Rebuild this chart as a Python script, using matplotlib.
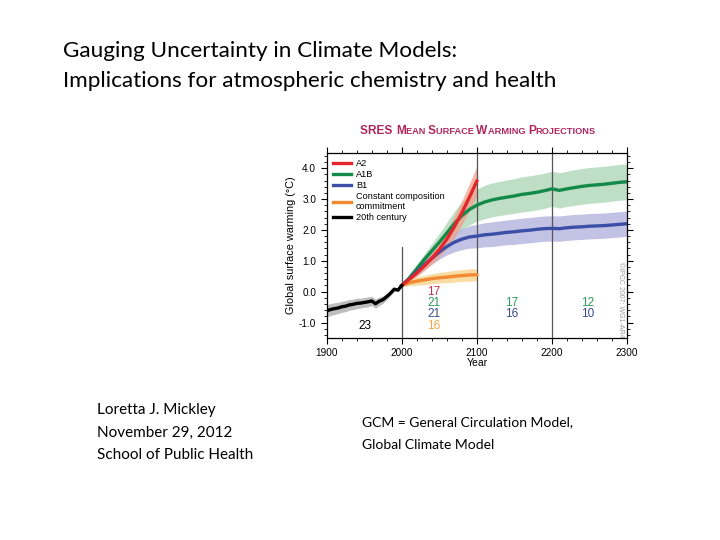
import matplotlib
matplotlib.use("Agg")
import matplotlib.pyplot as plt
from matplotlib.ticker import MultipleLocator

# 20th century observations / simulations
years_20c = [1900, 1905, 1910, 1915, 1920, 1925, 1930, 1935, 1940, 1945, 1950,
             1955, 1960, 1965, 1970, 1975, 1980, 1985, 1990, 1995, 2000]
warm_20c = [-0.62, -0.58, -0.55, -0.53, -0.49, -0.47, -0.43, -0.41, -0.38, -0.37, -0.35,
            -0.33, -0.30, -0.39, -0.31, -0.26, -0.16, -0.05, 0.08, 0.05, 0.20]
spread_20c = [0.20, 0.19, 0.19, 0.18, 0.18, 0.18, 0.17, 0.17, 0.17, 0.16, 0.16,
              0.16, 0.15, 0.15, 0.14, 0.12, 0.10, 0.08, 0.06, 0.04, 0.02]

# 21st century scenarios
years_21c = [2000, 2010, 2020, 2030, 2040, 2050, 2060, 2070, 2080, 2090, 2100]
a2 = [0.20, 0.40, 0.60, 0.83, 1.08, 1.36, 1.70, 2.10, 2.55, 3.05, 3.58]
a2_spread = [0.02, 0.07, 0.11, 0.15, 0.19, 0.24, 0.29, 0.34, 0.39, 0.44, 0.48]
a1b_21c = [0.20, 0.44, 0.74, 1.04, 1.32, 1.60, 1.90, 2.20, 2.46, 2.66, 2.80]
a1b_spread_21c = [0.02, 0.08, 0.13, 0.18, 0.23, 0.28, 0.34, 0.40, 0.45, 0.50, 0.52]
b1_21c = [0.20, 0.41, 0.64, 0.87, 1.08, 1.28, 1.46, 1.60, 1.70, 1.77, 1.80]
b1_spread_21c = [0.02, 0.07, 0.11, 0.15, 0.19, 0.23, 0.27, 0.31, 0.34, 0.36, 0.38]
comm = [0.20, 0.29, 0.34, 0.38, 0.42, 0.45, 0.47, 0.50, 0.52, 0.54, 0.55]
comm_spread = [0.03, 0.10, 0.13, 0.15, 0.16, 0.17, 0.18, 0.19, 0.19, 0.20, 0.20]

# stabilisation after 2100
years_ext = [2100, 2110, 2120, 2130, 2140, 2150, 2160, 2170, 2180, 2190, 2200,
             2210, 2220, 2230, 2240, 2250, 2260, 2270, 2280, 2290, 2300]
a1b_ext = [2.80, 2.90, 2.97, 3.02, 3.06, 3.10, 3.15, 3.18, 3.22, 3.27, 3.33,
           3.28, 3.33, 3.37, 3.41, 3.44, 3.46, 3.48, 3.51, 3.54, 3.56]
a1b_spread_ext = [0.52, 0.54, 0.55, 0.55, 0.56, 0.56, 0.57, 0.57, 0.57, 0.57, 0.57,
                  0.57, 0.57, 0.58, 0.58, 0.58, 0.58, 0.58, 0.58, 0.58, 0.58]
b1_ext = [1.80, 1.84, 1.86, 1.89, 1.92, 1.94, 1.97, 1.99, 2.02, 2.04, 2.05,
          2.04, 2.07, 2.09, 2.10, 2.12, 2.13, 2.14, 2.16, 2.18, 2.20]
b1_spread_ext = [0.38, 0.39, 0.40, 0.40, 0.40, 0.41, 0.41, 0.41, 0.41, 0.41, 0.41,
                 0.41, 0.41, 0.41, 0.41, 0.41, 0.41, 0.41, 0.41, 0.41, 0.41]

# model counts per period
count_rows = [0.0, -0.37, -0.73, -1.10]
counts_2000s = ["17", "21", "21", "16"]
counts_2100s = ["", "17", "16", ""]
counts_2200s = ["", "12", "10", ""]

C_A2, C_A1B, C_B1, C_COM = "#e2262c", "#148a48", "#3b4fa6", "#f28a34"
B_A2, B_A1B, B_B1, B_COM = "#f2a08c", "#a9d3b2", "#aeaedb", "#f8cf86"
NUM_COLORS = ["#c9304a", "#2a9a5a", "#3a4a8e", "#f2a444"]

plt.rcParams["font.family"] = ["Liberation Sans", "DejaVu Sans"]
fig = plt.figure(figsize=(7.2, 5.4), dpi=100)
ax = fig.add_axes([0.4537, 0.3741, 0.4171, 0.3431])


def band(x, mid, spread, color):
    lo = [m - s for m, s in zip(mid, spread)]
    hi = [m + s for m, s in zip(mid, spread)]
    ax.fill_between(x, lo, hi, color=color, lw=0, alpha=0.75)


band(years_20c, warm_20c, spread_20c, "#a8a8a8")
band(years_ext, a1b_ext, a1b_spread_ext, B_A1B)
band(years_ext, b1_ext, b1_spread_ext, B_B1)
band(years_21c, a1b_21c, a1b_spread_21c, B_A1B)
band(years_21c, b1_21c, b1_spread_21c, B_B1)
band(years_21c, a2, a2_spread, B_A2)
band(years_21c, comm, comm_spread, B_COM)

for xv in (2100, 2200):
    ax.axvline(xv, color="#555555", lw=0.9, zorder=1)
ax.plot([2000, 2000], [-1.5, 1.45], color="#555555", lw=0.9, zorder=1)

lw = 2.4
ax.plot(years_21c + years_ext[1:], a1b_21c + a1b_ext[1:], color=C_A1B, lw=lw, label="A1B")
ax.plot(years_21c + years_ext[1:], b1_21c + b1_ext[1:], color=C_B1, lw=lw, label="B1")
ax.plot(years_21c, comm, color=C_COM, lw=lw, label="Constant composition\ncommitment")
ax.plot(years_21c, a2, color=C_A2, lw=lw, label="A2")
ax.plot(years_20c, warm_20c, color="black", lw=lw, label="20th century")

num_size = 8.5
for y, s, c in zip(count_rows, counts_2000s, NUM_COLORS):
    ax.text(2043, y, s, color=c, fontsize=num_size, ha="center", va="center")
for y, s, c in zip(count_rows, counts_2100s, NUM_COLORS):
    ax.text(2146, y, s, color=c, fontsize=num_size, ha="center", va="center")
for y, s, c in zip(count_rows, counts_2200s, NUM_COLORS):
    ax.text(2248, y, s, color=c, fontsize=num_size, ha="center", va="center")
ax.text(1951, -1.1, "23", color="black", fontsize=num_size, ha="center", va="center")
ax.text(2291, -0.27, "©IPCC 2007: WG1-AR4", color="#999999", fontsize=5,
        rotation=-90, ha="center", va="center")

handles, labels = ax.get_legend_handles_labels()
order = [3, 0, 1, 2, 4]
ax.legend([handles[i] for i in order], [labels[i] for i in order], loc="upper left",
          frameon=False, fontsize=6.6, handlelength=2.0, handletextpad=0.5,
          labelspacing=0.2, borderaxespad=0.3)

ax.set_xlim(1900, 2300)
ax.set_ylim(-1.5, 4.5)
ax.xaxis.set_major_locator(MultipleLocator(100))
ax.xaxis.set_minor_locator(MultipleLocator(20))
ax.yaxis.set_major_locator(MultipleLocator(1.0))
ax.yaxis.set_minor_locator(MultipleLocator(0.2))
ax.set_yticks([-1, 0, 1, 2, 3, 4])
ax.set_yticklabels(["-1.0", "0.0", "1.0", "2.0", "3.0", "4.0"])
ax.tick_params(which="both", direction="out", top=True, right=True, labelsize=7.2)
ax.tick_params(which="major", length=4, width=0.8)
ax.tick_params(which="minor", length=2, width=0.6)
for sp in ax.spines.values():
    sp.set_linewidth(0.9)
ax.set_xlabel("Year", fontsize=7.5, labelpad=0)
ax.set_ylabel("Global surface warming (°C)", fontsize=7.8, labelpad=2)

# small-caps style title
pieces = [("SRES ", 8.6), ("M", 8.6), ("EAN ", 6.7), ("S", 8.6), ("URFACE ", 6.7),
          ("W", 8.6), ("ARMING ", 6.7), ("P", 8.6), ("ROJECTIONS", 6.7)]
renderer = fig.canvas.get_renderer()
x = 0.5
texts = []
for s, size in pieces:
    t = fig.text(x, 0.752, s, fontsize=size, fontweight="bold", color="#b0285e",
                 ha="left", va="baseline")
    texts.append(t)
    x += t.get_window_extent(renderer).width / fig.bbox.width
shift = 0.664 - (0.5 + x) / 2
for t in texts:
    t.set_x(t.get_position()[0] + shift)

slide_font = ["Lato", "DejaVu Sans"]
fig.text(0.088, 0.905, "Gauging Uncertainty in Climate Models:", fontsize=16.2,
         family=slide_font, va="center")
fig.text(0.088, 0.85, "Implications for atmospheric chemistry and health", fontsize=16.2,
         family=slide_font, va="center")
for i, s in enumerate(["Loretta J. Mickley", "November 29, 2012", "School of Public Health"]):
    fig.text(0.135, 0.24 - i * 0.0415, s, fontsize=11, family=slide_font, va="center")
for i, s in enumerate(["GCM = General Circulation Model,", "Global Climate Model"]):
    fig.text(0.503, 0.218 - i * 0.0415, s, fontsize=10, family=slide_font, va="center")

fig.savefig("out.png", dpi=100)
